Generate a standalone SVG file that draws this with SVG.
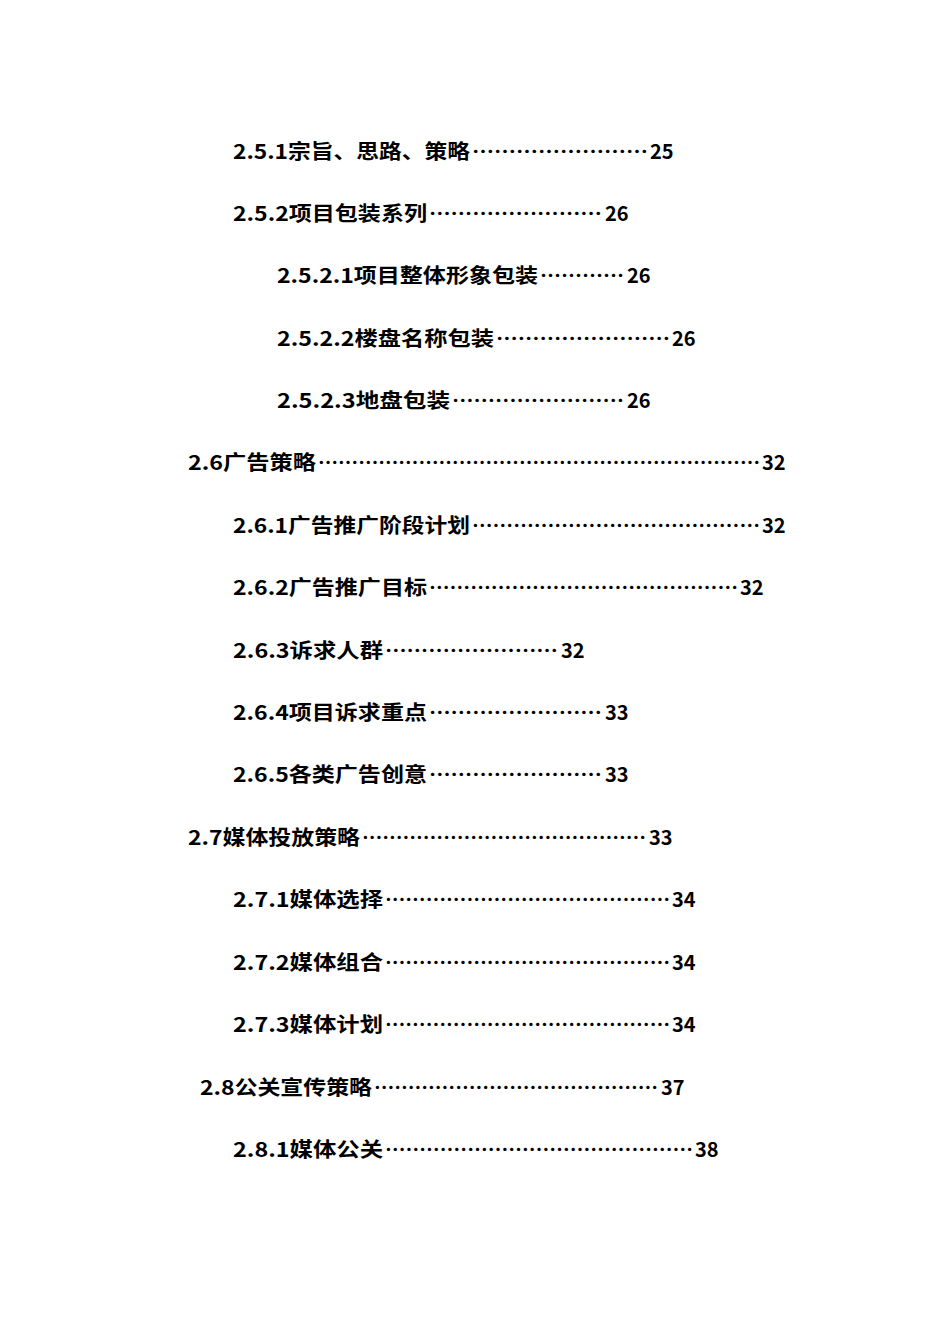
<svg xmlns="http://www.w3.org/2000/svg" width="950" height="1344" viewBox="0 0 950 1344">
<style>
text{font-family:"Noto Sans CJK SC","Liberation Sans",sans-serif;font-size:20px;font-weight:bold;fill:#000}
</style>
<rect width="950" height="1344" fill="#fff"/>
<g id="toc">
<text x="233" y="159" textLength="237" lengthAdjust="spacingAndGlyphs">2.5.1宗旨、思路、策略</text><text x="472" y="159" textLength="176" lengthAdjust="spacingAndGlyphs">……………………</text><text x="650" y="159">25</text>
<text x="233" y="221" textLength="194" lengthAdjust="spacingAndGlyphs">2.5.2项目包装系列</text><text x="429" y="221" textLength="173" lengthAdjust="spacingAndGlyphs">……………………</text><text x="605" y="221">26</text>
<text x="277" y="283" textLength="261" lengthAdjust="spacingAndGlyphs">2.5.2.1项目整体形象包装</text><text x="540" y="283" textLength="84" lengthAdjust="spacingAndGlyphs">…………</text><text x="627" y="283">26</text>
<text x="277" y="346" textLength="217" lengthAdjust="spacingAndGlyphs">2.5.2.2楼盘名称包装</text><text x="496" y="346" textLength="174" lengthAdjust="spacingAndGlyphs">……………………</text><text x="672" y="346">26</text>
<text x="277" y="408" textLength="173" lengthAdjust="spacingAndGlyphs">2.5.2.3地盘包装</text><text x="452" y="408" textLength="172" lengthAdjust="spacingAndGlyphs">……………………</text><text x="627" y="408">26</text>
<text x="188" y="470" textLength="128" lengthAdjust="spacingAndGlyphs">2.6广告策略</text><text x="318" y="470" textLength="442" lengthAdjust="spacingAndGlyphs">…………………………………………………………</text><text x="762" y="470">32</text>
<text x="233" y="533" textLength="237" lengthAdjust="spacingAndGlyphs">2.6.1广告推广阶段计划</text><text x="472" y="533" textLength="288" lengthAdjust="spacingAndGlyphs">……………………………………</text><text x="762" y="533">32</text>
<text x="233" y="595" textLength="194" lengthAdjust="spacingAndGlyphs">2.6.2广告推广目标</text><text x="429" y="595" textLength="309" lengthAdjust="spacingAndGlyphs">………………………………………</text><text x="740" y="595">32</text>
<text x="233" y="658" textLength="150" lengthAdjust="spacingAndGlyphs">2.6.3诉求人群</text><text x="385" y="658" textLength="173" lengthAdjust="spacingAndGlyphs">……………………</text><text x="561" y="658">32</text>
<text x="233" y="720" textLength="194" lengthAdjust="spacingAndGlyphs">2.6.4项目诉求重点</text><text x="429" y="720" textLength="173" lengthAdjust="spacingAndGlyphs">……………………</text><text x="605" y="720">33</text>
<text x="233" y="782" textLength="194" lengthAdjust="spacingAndGlyphs">2.6.5各类广告创意</text><text x="429" y="782" textLength="173" lengthAdjust="spacingAndGlyphs">……………………</text><text x="605" y="782">33</text>
<text x="188" y="845" textLength="172" lengthAdjust="spacingAndGlyphs">2.7媒体投放策略</text><text x="362" y="845" textLength="284" lengthAdjust="spacingAndGlyphs">……………………………………</text><text x="649" y="845">33</text>
<text x="233" y="907" textLength="150" lengthAdjust="spacingAndGlyphs">2.7.1媒体选择</text><text x="385" y="907" textLength="285" lengthAdjust="spacingAndGlyphs">……………………………………</text><text x="672" y="907">34</text>
<text x="233" y="970" textLength="150" lengthAdjust="spacingAndGlyphs">2.7.2媒体组合</text><text x="385" y="970" textLength="285" lengthAdjust="spacingAndGlyphs">……………………………………</text><text x="672" y="970">34</text>
<text x="233" y="1032" textLength="150" lengthAdjust="spacingAndGlyphs">2.7.3媒体计划</text><text x="385" y="1032" textLength="285" lengthAdjust="spacingAndGlyphs">……………………………………</text><text x="672" y="1032">34</text>
<text x="200" y="1095" textLength="172" lengthAdjust="spacingAndGlyphs">2.8公关宣传策略</text><text x="374" y="1095" textLength="284" lengthAdjust="spacingAndGlyphs">……………………………………</text><text x="661" y="1095">37</text>
<text x="233" y="1157" textLength="150" lengthAdjust="spacingAndGlyphs">2.8.1媒体公关</text><text x="385" y="1157" textLength="308" lengthAdjust="spacingAndGlyphs">………………………………………</text><text x="695" y="1157">38</text>
</g>
</svg>
